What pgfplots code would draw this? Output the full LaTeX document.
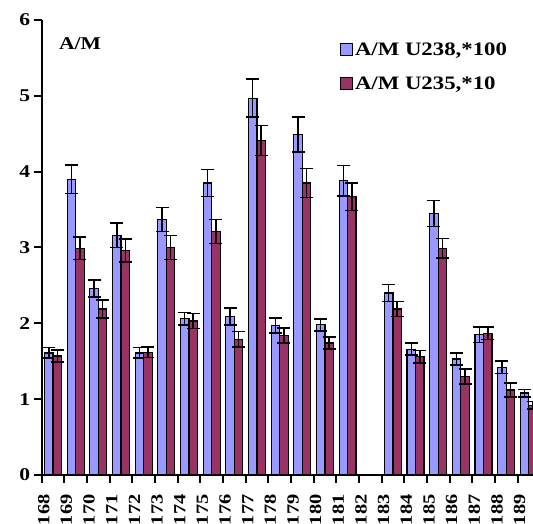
\documentclass[border=0pt]{standalone}
\usepackage{pgfplots}
\usepackage{pgfplotstable}
\pgfplotsset{compat=1.18}
\usepackage{fontspec}
\setmainfont[FakeStretch=1.2]{Liberation Serif}
\definecolor{xlblue}{RGB}{153,153,255}
\definecolor{xlred}{RGB}{153,51,102}

\pgfplotstableread{
x y e
0 1.61 0.07
1 3.90 0.19
2 2.46 0.11
3 3.16 0.16
4 1.61 0.07
5 3.37 0.16
6 2.06 0.08
7 3.85 0.18
8 2.09 0.11
9 4.97 0.25
10 1.97 0.10
11 4.49 0.23
12 1.98 0.08
13 3.88 0.20
15 2.40 0.11
16 1.66 0.08
17 3.45 0.17
18 1.53 0.08
19 1.85 0.10
20 1.42 0.08
21 1.08 0.05
}\tblue

\pgfplotstableread{
x y e
0 1.57 0.08
1 2.99 0.15
2 2.19 0.12
3 2.96 0.15
4 1.62 0.07
5 3.00 0.16
6 2.03 0.10
7 3.21 0.16
8 1.79 0.10
9 4.41 0.20
10 1.84 0.10
11 3.85 0.19
12 1.74 0.08
13 3.67 0.18
15 2.19 0.10
16 1.56 0.08
17 2.99 0.13
18 1.30 0.10
19 1.87 0.08
20 1.12 0.09
21 0.92 0.05
}\tred

\begin{document}
\begin{tikzpicture}
\begin{axis}[
  name=ax,
  scale only axis,
  width=498.5pt, height=455pt,
  xmin=-0.5, xmax=21.5, ymin=0, ymax=6,
  enlargelimits=false,
  clip=false,
  ybar=0pt, bar width=0.375,
  axis lines=left,
  axis line style={-, line width=2pt, black},
  tick align=outside,
  tick style={line width=2pt, black},
  major tick length=8pt,
  xtick={-0.5,0.5,...,21.5},
  x tick label as interval,
  xticklabels={168,169,170,171,172,173,174,175,176,177,178,179,180,181,182,183,184,185,186,187,188,189,{}},
  xticklabel shift=8pt,
  ytick={0,...,6},
  /pgf/number format/assume math mode=true,
  yticklabel style={font=\fontsize{18}{18}\selectfont\bfseries},
  xticklabel style={font=\fontsize{17}{17}\selectfont\bfseries, rotate=90, anchor=south east},
  legend style={at={(0.592,0.96)}, anchor=north west, draw=none, fill=none,
    font=\fontsize{19}{19}\selectfont\bfseries, row sep=16pt, cells={anchor=west}},
  legend image code/.code={\draw[#1, line width=1pt, draw=black] (0pt,-6pt) rectangle (12pt,6pt);},
  every axis plot/.append style={draw=black, line width=1.2pt},
  error bars/error bar style={line width=1.5pt, black},
  error bars/error mark options={rotate=90, black, line width=1.5pt, mark size=6.5pt},
]
\addplot[fill=xlblue, error bars/.cd, y dir=both, y explicit] table[x=x, y=y, y error=e] {\tblue};
\addlegendentry{A/M U238,*100}
\addplot[fill=xlred, error bars/.cd, y dir=both, y explicit] table[x=x, y=y, y error=e] {\tred};
\addlegendentry{A/M U235,*10}
\pgfplotsinvokeforeach{0,1,...,6}{\draw[line width=2pt, black] (axis cs:-0.5,#1) -- ++(-8pt,0pt);}
\pgfplotsinvokeforeach{-0.5,0.5,...,21.5}{\draw[line width=2pt, black] (axis cs:#1,0) -- ++(0pt,-8pt);}
\node[font=\fontsize{18}{18}\selectfont\bfseries] at (rel axis cs:0.077,0.949) {A/M};
\end{axis}
\pgfresetboundingbox
\path[use as bounding box] ([shift={(-41.7pt,-49pt)}]ax.south west) rectangle ([shift={(491.3pt,20pt)}]ax.north west);
\end{tikzpicture}
\end{document}
